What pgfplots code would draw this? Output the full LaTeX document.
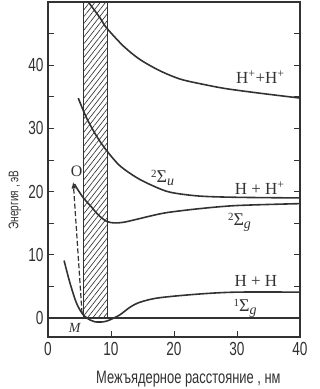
\documentclass[border=0pt]{standalone}
\usepackage{fontspec}
\setmainfont{Liberation Serif}
\newfontfamily\cond[FakeStretch=0.72]{Liberation Sans}
\usepackage{pgfplots}
\pgfplotsset{compat=1.18}
\usetikzlibrary{patterns.meta,arrows.meta}
\definecolor{ink}{RGB}{50,50,50}
\begin{document}
\begin{tikzpicture}
\begin{axis}[
  scale only axis, width=252bp, height=335bp,
  xmin=0, xmax=40, ymin=-3, ymax=50,
  axis line style={line width=1.3pt, ink},
  every tick/.style={ink, line width=1pt},
  xtick={0,10,20,30,40}, xtick pos=bottom,
  ytick={0,10,20,30,40}, minor ytick={5,15,25,35,45}, ytick pos=both,
  major tick length=6bp, minor tick length=6bp,
  tick align=inside,
  /pgf/number format/assume math mode=true,
  ticklabel style={font=\cond\fontsize{19}{19}\selectfont, text=ink},
  xticklabel style={yshift=-2bp},
  yticklabel style={xshift=-1bp},
  xlabel={Межъядерное расстояние , нм},
  ylabel={Энергия , эВ},
  xlabel style={font=\cond\fontsize{18}{18}\selectfont, text=ink, at={(axis description cs:0.557,-0.125)}, anchor=center},
  ylabel style={font=\cond\fontsize{14}{14}\selectfont, text=ink, at={(axis description cs:-0.131,0.409)}, anchor=center},
  clip=true,
]
% hatched band
\addplot[draw=ink, line width=0.9pt, pattern={Lines[angle=52,distance=4.2pt,line width=0.65pt]}, pattern color=ink]
  coordinates {(5.7,0) (9.5,0) (9.5,50) (5.7,50) (5.7,0)};
% baseline at 0
\addplot[ink, line width=1.1pt] coordinates {(0,0) (40,0)};
% H+ + H+
\addplot[ink, line width=1.6pt, smooth] coordinates {
  (6.4,50) (8.25,47.5) (9.3,45.9) (12,43) (14.6,40.9) (17.8,39.1) (21,37.8) (24.5,37.0) (28.2,36.3) (33.4,35.6) (40,34.8)};
% 2Sigma_u
\addplot[ink, line width=1.6pt, smooth] coordinates {
  (4.8,34.8) (6.1,31.7) (7.7,28.8) (9.3,26.5) (11.4,24.1) (14.1,22.2) (16.7,20.9) (19.4,19.9) (24,19.3) (30,19.1) (40,19.0)};
% 2Sigma_g
\addplot[ink, line width=1.6pt, smooth] coordinates {
  (4.2,21.2) (4.8,20.2) (5.7,18.9) (6.7,17.8) (8,16.3) (9.3,15.3) (10.5,15.05) (12,15.15) (14,15.6) (16.5,16.2) (19,16.7) (24,17.3) (30,17.8) (40,18.1)};
% 1Sigma_g
\addplot[ink, line width=1.6pt, smooth] coordinates {
  (2.55,9.1) (3.5,5.5) (4.55,2.3) (5.6,0.5) (6.65,-0.3) (7.45,-0.6) (8.8,-0.6) (9.8,-0.3) (11.4,0.5) (13,1.7) (14.6,2.5) (17.6,3.2) (24,3.8) (30,4.1) (40,4.1)};
% Franck-Condon arrow
\addplot[ink, line width=1.2pt, dash pattern=on 5pt off 2.5pt, -{Latex[length=7pt,width=4.5pt]}] coordinates {(5.4,0.8) (4.0,21.6)};
% labels
\node[text=ink, font=\fontsize{17}{17}\selectfont] at (axis cs:33.7,38.1) {H\textsuperscript{+}+H\textsuperscript{+}};
\node[text=ink, font=\fontsize{17}{17}\selectfont] at (axis cs:33.6,20.6) {H + H\textsuperscript{+}};
\node[text=ink, font=\fontsize{17}{17}\selectfont] at (axis cs:33.0,5.8) {H + H};
\node[text=ink, font=\fontsize{18}{18}\selectfont] at (axis cs:18.2,22.2) {\raisebox{5pt}{\fontsize{11}{11}\selectfont 2}Σ\raisebox{-3pt}{\itshape\fontsize{14}{14}\selectfont u}};
\node[text=ink, font=\fontsize{18}{18}\selectfont] at (axis cs:30.4,15.1) {\raisebox{5pt}{\fontsize{11}{11}\selectfont 2}Σ\raisebox{-3pt}{\itshape\fontsize{14}{14}\selectfont g}};
\node[text=ink, font=\fontsize{18}{18}\selectfont] at (axis cs:31.3,1.6) {\raisebox{5pt}{\fontsize{11}{11}\selectfont 1}Σ\raisebox{-3pt}{\itshape\fontsize{14}{14}\selectfont g}};
\node[text=ink, font=\itshape\fontsize{14}{14}\selectfont] at (axis cs:4.25,-1.6) {M};
\node[text=ink, font=\fontsize{16}{16}\selectfont] at (axis cs:4.55,23.2) {O};
\end{axis}
\pgfresetboundingbox
\path (-48bp,-52bp) rectangle (272bp,337bp);
\end{tikzpicture}
\end{document}
